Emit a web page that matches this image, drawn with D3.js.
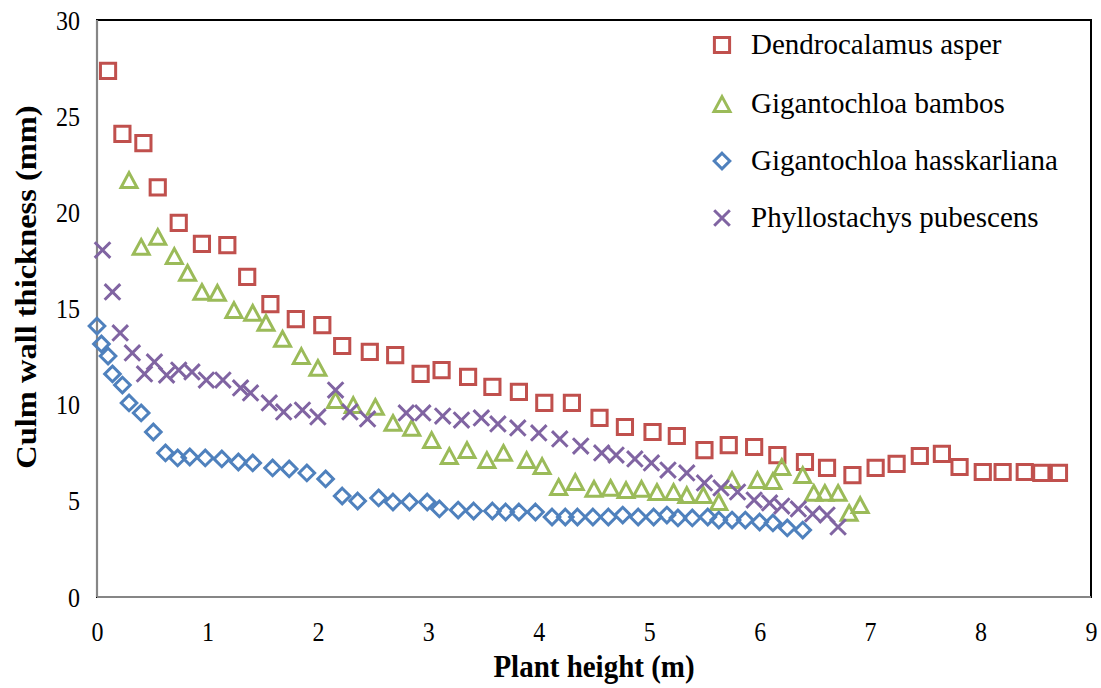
<!DOCTYPE html>
<html>
<head>
<meta charset="utf-8">
<script src="https://cdn.jsdelivr.net/npm/d3@7"></script>
<style>
  html, body { margin: 0; padding: 0; background: #fff; }
  svg { display: block; }
</style>
</head>
<body>
<svg id="chart" width="1101" height="688"></svg>
<script>
// ---- Data ----
const seriesNames = ["Dendrocalamus asper", "Gigantochloa bambos", "Gigantochloa hasskarliana", "Phyllostachys pubescens"];
const xTicks = [0,1,2,3,4,5,6,7,8,9];
const yTicks = [0,5,10,15,20,25,30];

const asperX = [0.10,0.23,0.42,0.55,0.74,0.95,1.18,1.36,1.57,1.80,2.04,2.22,2.47,2.70,2.93,3.12,3.36,3.58,3.82,4.05,4.30,4.55,4.78,5.03,5.25,5.50,5.72,5.95,6.16,6.41,6.61,6.84,7.05,7.24,7.45,7.65,7.81,8.02,8.20,8.40,8.55,8.71];
const asperY = [27.35,24.08,23.60,21.30,19.45,18.36,18.30,16.64,15.23,14.45,14.14,13.05,12.74,12.58,11.60,11.80,11.44,10.92,10.66,10.09,10.09,9.31,8.84,8.58,8.37,7.64,7.90,7.80,7.38,7.02,6.71,6.34,6.71,6.92,7.33,7.44,6.76,6.50,6.50,6.50,6.45,6.45];

const bambosX = [0.29,0.40,0.55,0.70,0.82,0.95,1.09,1.24,1.41,1.53,1.68,1.85,2.00,2.16,2.32,2.52,2.68,2.85,3.03,3.19,3.35,3.53,3.68,3.89,4.03,4.18,4.33,4.50,4.65,4.79,4.93,5.07,5.22,5.34,5.49,5.63,5.75,5.98,6.12,6.20,6.39,6.49,6.59,6.71,6.81,6.91];
const bambosY = [21.68,18.20,18.72,17.73,16.85,15.86,15.81,14.92,14.77,14.25,13.42,12.53,11.91,10.24,9.98,9.88,9.05,8.79,8.16,7.33,7.64,7.12,7.49,7.12,6.81,5.72,5.98,5.62,5.67,5.56,5.62,5.46,5.46,5.30,5.30,4.94,6.08,6.08,6.03,6.76,6.34,5.41,5.41,5.41,4.37,4.78];

const hassX = [0.00,0.04,0.10,0.14,0.23,0.29,0.40,0.51,0.62,0.73,0.84,0.98,1.13,1.28,1.41,1.59,1.74,1.90,2.07,2.22,2.36,2.55,2.68,2.83,2.99,3.10,3.27,3.41,3.58,3.70,3.82,3.97,4.12,4.24,4.35,4.49,4.63,4.76,4.90,5.04,5.16,5.26,5.39,5.53,5.63,5.75,5.87,6.00,6.12,6.25,6.39];
const hassY = [14.09,13.16,12.53,11.60,11.02,10.09,9.57,8.58,7.49,7.23,7.28,7.23,7.18,7.02,6.97,6.71,6.66,6.45,6.14,5.25,4.99,5.15,4.94,4.94,4.94,4.58,4.52,4.47,4.47,4.42,4.42,4.42,4.16,4.16,4.16,4.16,4.16,4.26,4.16,4.16,4.26,4.11,4.11,4.16,4.00,4.00,4.00,3.90,3.85,3.59,3.48];

const pubX = [0.05,0.14,0.21,0.32,0.43,0.52,0.63,0.74,0.86,0.99,1.14,1.30,1.39,1.56,1.69,1.86,2.00,2.16,2.29,2.45,2.80,2.95,3.13,3.30,3.48,3.63,3.81,4.00,4.19,4.38,4.57,4.70,4.87,5.02,5.17,5.34,5.50,5.65,5.80,5.95,6.09,6.20,6.35,6.48,6.61,6.71];
const pubY = [18.04,15.86,13.73,12.69,11.60,12.22,11.54,11.80,11.70,11.28,11.28,10.87,10.61,10.09,9.62,9.72,9.36,10.76,9.62,9.26,9.57,9.57,9.41,9.20,9.31,9.00,8.79,8.53,8.22,7.85,7.49,7.38,7.18,6.97,6.60,6.45,5.93,5.67,5.46,5.04,4.89,4.73,4.58,4.32,4.26,3.64];

const colors = ["#C0504D", "#9BBB59", "#4F81BD", "#8064A2"];
const shapes = ["square", "triangle", "diamond", "cross"];

// ---- Layout ----
const plotL = 97, plotR = 1091, plotT = 20, plotB = 597;
const STRETCH = 1.12;
const FONT = "'Liberation Serif', 'Times New Roman', serif";

const svg = d3.select("#chart");
const x = d3.scaleLinear().domain([0, 9]).range([plotL, plotR]);
const y = d3.scaleLinear().domain([0, 30]).range([plotB, plotT]);

function markerPath(shape) {
  const p = d3.path();
  if (shape === "square") {
    const s = 7.6;
    p.rect(-s, -s, 2*s, 2*s);
  } else if (shape === "triangle") {
    const w = 8.0, h = 7.4;
    p.moveTo(0, -h); p.lineTo(w, h); p.lineTo(-w, h); p.closePath();
  } else if (shape === "diamond") {
    const r = 7.8;
    p.moveTo(0, -r); p.lineTo(r, 0); p.lineTo(0, r); p.lineTo(-r, 0); p.closePath();
  } else {
    const r = 7.8;
    p.moveTo(-r, -r); p.lineTo(r, r); p.moveTo(r, -r); p.lineTo(-r, r);
  }
  return p.toString();
}

// ---- Plot frame ----
svg.append("rect")
  .attr("x", plotL).attr("y", plotT)
  .attr("width", plotR - plotL).attr("height", plotB - plotT)
  .attr("fill", "none").attr("stroke", "#000").attr("stroke-width", 2);

// ---- Axes ----
const xAxis = d3.axisBottom(x).tickValues(xTicks).tickSize(0).tickFormat(d3.format("d"));
const gx = svg.append("g").attr("transform", `translate(0,${plotB})`).call(xAxis);
gx.select(".domain").remove();
gx.selectAll("text")
  .attr("y", 44 / STRETCH).attr("dy", 0)
  .attr("transform", `scale(1,${STRETCH})`)
  .attr("font-family", FONT).attr("font-size", 24).attr("fill", "#000");

const yAxis = d3.axisLeft(y).tickValues(yTicks).tickSize(0).tickFormat(d3.format("d"));
const gy = svg.append("g").attr("transform", `translate(${plotL},0)`).call(yAxis);
gy.select(".domain").remove();
gy.selectAll("text")
  .attr("x", -17).attr("dy", "0.34em")
  .attr("transform", `scale(1,${STRETCH})`)
  .attr("font-family", FONT).attr("font-size", 24).attr("fill", "#000");

// grey axis lines
svg.append("line").attr("x1", plotL).attr("x2", plotL).attr("y1", plotT).attr("y2", plotB)
  .attr("stroke", "#868686").attr("stroke-width", 2.2);
svg.append("line").attr("x1", plotL).attr("x2", plotR).attr("y1", plotB).attr("y2", plotB)
  .attr("stroke", "#868686").attr("stroke-width", 2.2);

// ---- Series ----
const allSeries = [
  {xs: asperX, ys: asperY},
  {xs: bambosX, ys: bambosY},
  {xs: hassX, ys: hassY},
  {xs: pubX, ys: pubY}
];
allSeries.forEach((s, i) => {
  const pts = s.xs.map((v, k) => [v, s.ys[k]]);
  svg.append("g").selectAll("path").data(pts).join("path")
    .attr("transform", d => `translate(${x(d[0])},${y(d[1])})`)
    .attr("d", markerPath(shapes[i]))
    .attr("fill", "none")
    .attr("stroke", colors[i])
    .attr("stroke-width", 3)
    .attr("stroke-linejoin", "miter");
});

// ---- Legend ----
const legendY = [45, 104, 161, 218];
const lg = svg.append("g");
seriesNames.forEach((name, i) => {
  lg.append("path")
    .attr("transform", `translate(722,${legendY[i]})`)
    .attr("d", markerPath(shapes[i]))
    .attr("fill", "none").attr("stroke", colors[i]).attr("stroke-width", 3);
  lg.append("text")
    .attr("x", 751).attr("y", legendY[i] + 9)
    .attr("font-family", FONT).attr("font-size", 29).attr("fill", "#000")
    .text(name);
});

// ---- Axis titles ----
svg.append("text")
  .attr("transform", `translate(${(plotL + plotR) / 2},677) scale(1,${STRETCH})`)
  .attr("text-anchor", "middle")
  .attr("font-family", FONT).attr("font-weight", "bold").attr("font-size", 29).attr("fill", "#000")
  .text("Plant height (m)");

svg.append("text")
  .attr("transform", `translate(36,287) scale(1,${STRETCH}) rotate(-90)`)
  .attr("text-anchor", "middle")
  .attr("font-family", FONT).attr("font-weight", "bold").attr("font-size", 29).attr("fill", "#000")
  .text("Culm wall thickness (mm)");
</script>
</body>
</html>
